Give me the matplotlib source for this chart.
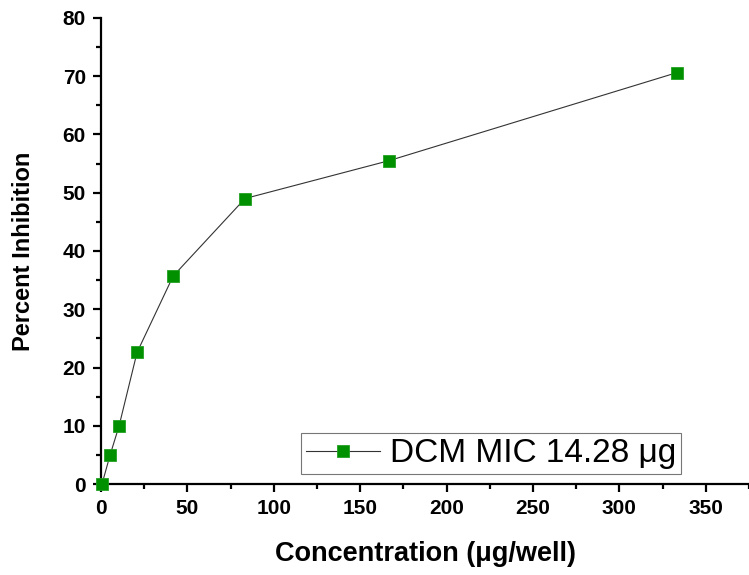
import matplotlib.pyplot as plt
from matplotlib.ticker import MultipleLocator

plt.rcParams['font.family'] = ['Liberation Sans', 'DejaVu Sans']

# concentration (µg/well) and percent inhibition
conc = [0.5, 5.2, 10.4, 20.8, 41.7, 83.3, 166.7, 333.3]
inhibition = [0.0, 5.0, 10.0, 22.6, 35.7, 49.0, 55.5, 70.6]
series_label = "DCM MIC 14.28 μg"

fig = plt.figure(figsize=(7.49, 5.75), dpi=100)
ax = fig.add_axes([0.135, 0.158, 0.865, 0.811])

ax.plot(conc, inhibition, '-', color='#333333', lw=0.8,
        marker='s', markersize=9, markerfacecolor='#009000',
        markeredgecolor='#22a022', markeredgewidth=0.6,
        label=series_label, clip_on=False, zorder=3)

ax.set_xlim(0, 375)
ax.set_ylim(0, 80)
ax.xaxis.set_major_locator(MultipleLocator(50))
ax.xaxis.set_minor_locator(MultipleLocator(25))
ax.yaxis.set_major_locator(MultipleLocator(10))
ax.yaxis.set_minor_locator(MultipleLocator(5))

for s in ['top', 'right']:
    ax.spines[s].set_visible(False)
for s in ['left', 'bottom']:
    ax.spines[s].set_linewidth(1.6)

ax.tick_params(which='major', direction='out', length=6, width=1.6,
               labelsize=15, pad=5)
ax.tick_params(which='minor', direction='out', length=3.5, width=1.6)
for lbl in ax.get_xticklabels() + ax.get_yticklabels():
    lbl.set_fontweight('bold')

ax.set_xlabel("Concentration (μg/well)", fontsize=19.5, fontweight='bold',
              labelpad=16)
ax.set_ylabel("Percent Inhibition", fontsize=17, fontweight='bold',
              labelpad=20)

# legend box sits bottom-right, above the x axis
leg = ax.legend(loc='lower right', bbox_to_anchor=(0.895, 0.021),
                borderaxespad=0, fontsize=24, frameon=True, fancybox=False,
                handlelength=2.2, borderpad=0.15, handletextpad=0.3)
leg.get_frame().set_edgecolor('#555555')
leg.get_frame().set_linewidth(0.8)

fig.savefig("out.png", dpi=100)
